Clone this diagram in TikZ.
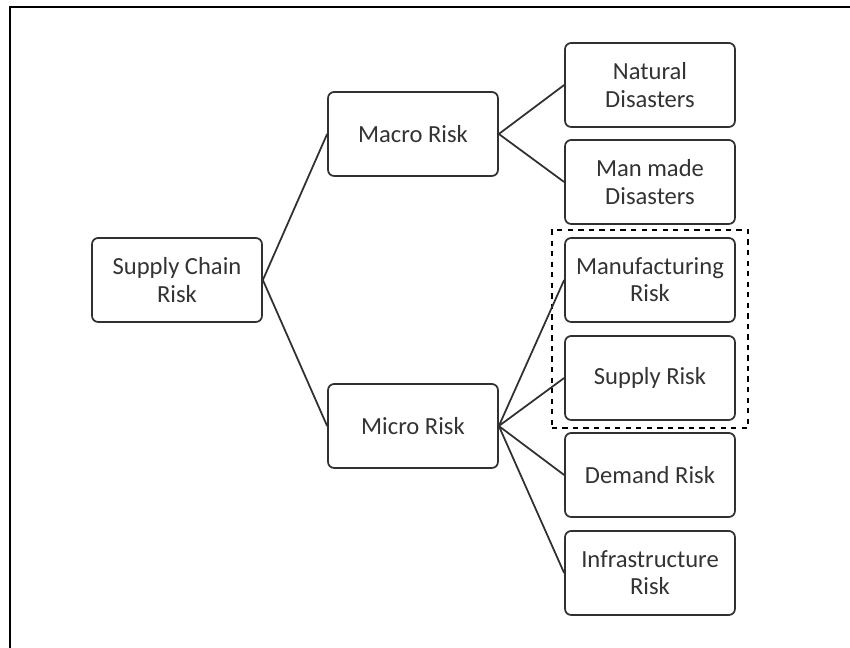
\documentclass[tikz,border=0pt]{standalone}
\usepackage{fontspec}
\setmainfont{Carlito}
\usepackage{xcolor}
\usetikzlibrary{positioning, fit}

\definecolor{boxline}{HTML}{303030}
\definecolor{boxtext}{HTML}{333333}

\begin{document}
\begin{tikzpicture}[x=0.02cm,y=-0.02cm,semithick]
        \tikzstyle{riskbox}=[draw=boxline,line width=1pt,rounded corners=3.5pt,minimum width=3.4cm,minimum height=1.68cm,
                             align=center,text=boxtext,font=\fontsize{14}{15.5}\selectfont,inner sep=2pt]
        \tikzstyle{link}=[draw=boxline,line width=1pt]

        \useasboundingbox (0,0) rectangle (850,648);
        \draw[line width=1.2pt] (10,648) -- (10,7) -- (850,7);

        \node[riskbox] (SCR) at (177,280) {Supply Chain\\Risk};
        \node[riskbox] (MAC) at (413,134) {Macro Risk};
        \node[riskbox] (MIC) at (413,426) {Micro Risk};

        \node[riskbox] (NAT) at (650,85)  {Natural\\Disasters};
        \node[riskbox] (MAN) at (650,182) {Man made\\Disasters};
        \node[riskbox] (MFG) at (650,280) {Manufacturing\\Risk};
        \node[riskbox] (SUP) at (650,378) {Supply Risk};
        \node[riskbox] (DEM) at (650,475) {Demand Risk};
        \node[riskbox] (INF) at (650,573) {Infrastructure\\Risk};

        \node[draw,dashed,line width=1pt,inner xsep=7pt,inner ysep=4pt,fit=(MFG) (SUP)] (GRP) {};

        \path[link] (SCR.east) -- (MAC.west)
                    (SCR.east) -- (MIC.west)
                    (MAC.east) -- (NAT.west)
                    (MAC.east) -- (MAN.west)
                    (MIC.east) -- (MFG.west)
                    (MIC.east) -- (SUP.west)
                    (MIC.east) -- (DEM.west)
                    (MIC.east) -- (INF.west);
\end{tikzpicture}
\end{document}
